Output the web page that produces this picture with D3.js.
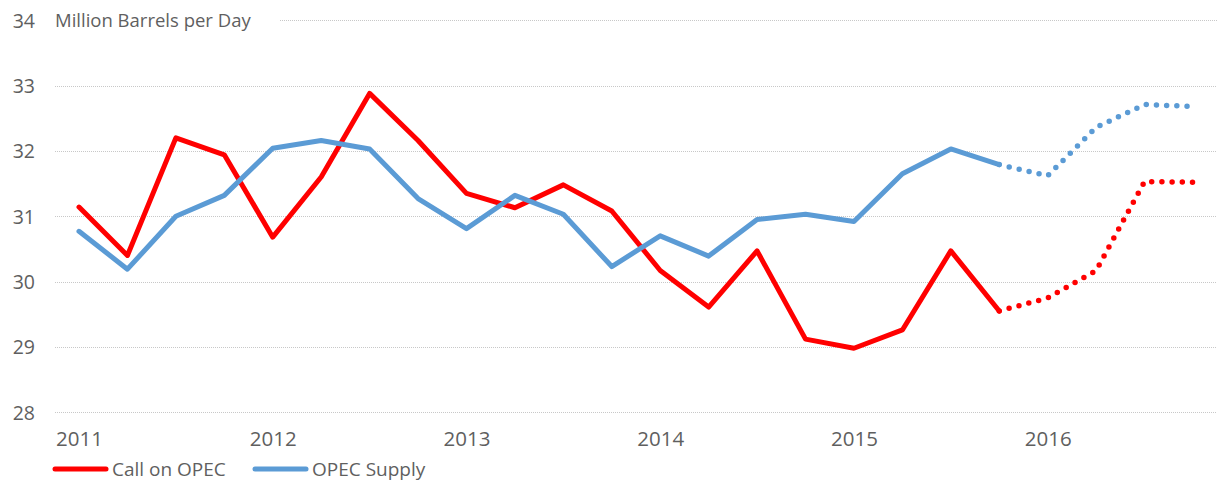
<!DOCTYPE html>
<html>
<head>
<meta charset="utf-8">
<script src="https://cdn.jsdelivr.net/npm/d3@7"></script>
<style>
  html, body { margin: 0; padding: 0; background: #fff; }
  svg { display: block; font-family: "Open Sans", "Noto Sans", sans-serif; }
</style>
</head>
<body>
<svg id="chart" width="1217" height="483"></svg>
<script>
const quarters = ["2011Q1","2011Q2","2011Q3","2011Q4","2012Q1","2012Q2","2012Q3","2012Q4",
  "2013Q1","2013Q2","2013Q3","2013Q4","2014Q1","2014Q2","2014Q3","2014Q4",
  "2015Q1","2015Q2","2015Q3","2015Q4","2016Q1","2016Q2","2016Q3","2016Q4"];
const callOnOPEC = [31.14, 30.40, 32.20, 31.94, 30.68, 31.60, 32.88, 32.16,
  31.35, 31.13, 31.48, 31.08, 30.17, 29.61, 30.47, 29.12,
  28.98, 29.26, 30.47, 29.55, 29.75, 30.17, 31.53, 31.52];
const opecSupply = [30.77, 30.19, 31.00, 31.32, 32.04, 32.16, 32.03, 31.27,
  30.81, 31.32, 31.03, 30.23, 30.70, 30.39, 30.95, 31.03,
  30.92, 31.65, 32.03, 31.79, 31.62, 32.36, 32.71, 32.68];
const forecastStart = 19; // index of last actual quarter (2015Q4)
const yTicks = [28, 29, 30, 31, 32, 33, 34];
const yearLabels = ["2011","2012","2013","2014","2015","2016"];
const seriesNames = ["Call on OPEC", "OPEC Supply"];
const seriesColors = ["#FF0000", "#5B9BD5"];
const unitTitle = "Million Barrels per Day";

const svg = d3.select("#chart");
const x = d3.scalePoint().domain(quarters).range([79, 1193]);
const y = d3.scaleLinear().domain([28, 34]).range([412.3, 20.2]);
const textColor = "#5f5f5f";

// gridlines
svg.append("g").selectAll("line").data(yTicks).join("line")
  .attr("x1", d => d === 34 ? 280 : 55)
  .attr("x2", 1217)
  .attr("y1", d => Math.round(y(d)) + 0.5)
  .attr("y2", d => Math.round(y(d)) + 0.5)
  .attr("stroke", "#c8c8c8")
  .attr("stroke-width", 1)
  .attr("stroke-dasharray", "1,1");

// y axis labels
const yAxis = d3.axisLeft(y).tickValues(yTicks).tickSize(0).tickPadding(0).tickFormat(d3.format("d"));
const gy = svg.append("g").attr("transform", "translate(35,0)").call(yAxis);
gy.select(".domain").remove();
gy.selectAll("text").attr("fill", textColor).attr("font-size", 19.5)
  .attr("font-family", "'Open Sans', sans-serif").attr("dy", "0.35em");

// unit title
svg.append("text").attr("x", 55).attr("y", y(34)).attr("dy", "0.35em")
  .attr("fill", textColor).attr("font-size", 18.5).text(unitTitle);

// x axis labels
const xAxis = d3.axisBottom(x)
  .tickValues(yearLabels.map(yr => yr + "Q1"))
  .tickFormat(d => d.slice(0, 4)).tickSize(0).tickPadding(0);
const gx = svg.append("g").attr("transform", "translate(0,431)").call(xAxis);
gx.select(".domain").remove();
gx.selectAll("text").attr("fill", textColor).attr("font-size", 20.5)
  .attr("font-family", "'Open Sans', sans-serif").attr("dy", "0.71em");

// lines
const line = d3.line().x(d => x(d.q)).y(d => y(d.v));
[callOnOPEC, opecSupply].forEach((vals, i) => {
  const pts = vals.map((v, j) => ({ q: quarters[j], v }));
  svg.append("path").datum(pts.slice(0, forecastStart + 1))
    .attr("d", line).attr("fill", "none")
    .attr("stroke", seriesColors[i]).attr("stroke-width", 5)
    .attr("stroke-linejoin", "round").attr("stroke-linecap", "round");
  svg.append("path").datum(pts.slice(forecastStart))
    .attr("d", line).attr("fill", "none")
    .attr("stroke", seriesColors[i]).attr("stroke-width", 5.5)
    .attr("stroke-dasharray", "0,10.2").attr("stroke-linecap", "round");
});

// legend
const legendX = [53, 253];
const lg = svg.append("g");
seriesNames.forEach((name, i) => {
  lg.append("line").attr("x1", legendX[i] + 2).attr("x2", legendX[i] + 53)
    .attr("y1", 469).attr("y2", 469)
    .attr("stroke", seriesColors[i]).attr("stroke-width", 5).attr("stroke-linecap", "round");
  lg.append("text").attr("x", legendX[i] + 59).attr("y", 469).attr("dy", "0.35em")
    .attr("fill", textColor).attr("font-size", 19).text(name);
});
</script>
</body>
</html>
